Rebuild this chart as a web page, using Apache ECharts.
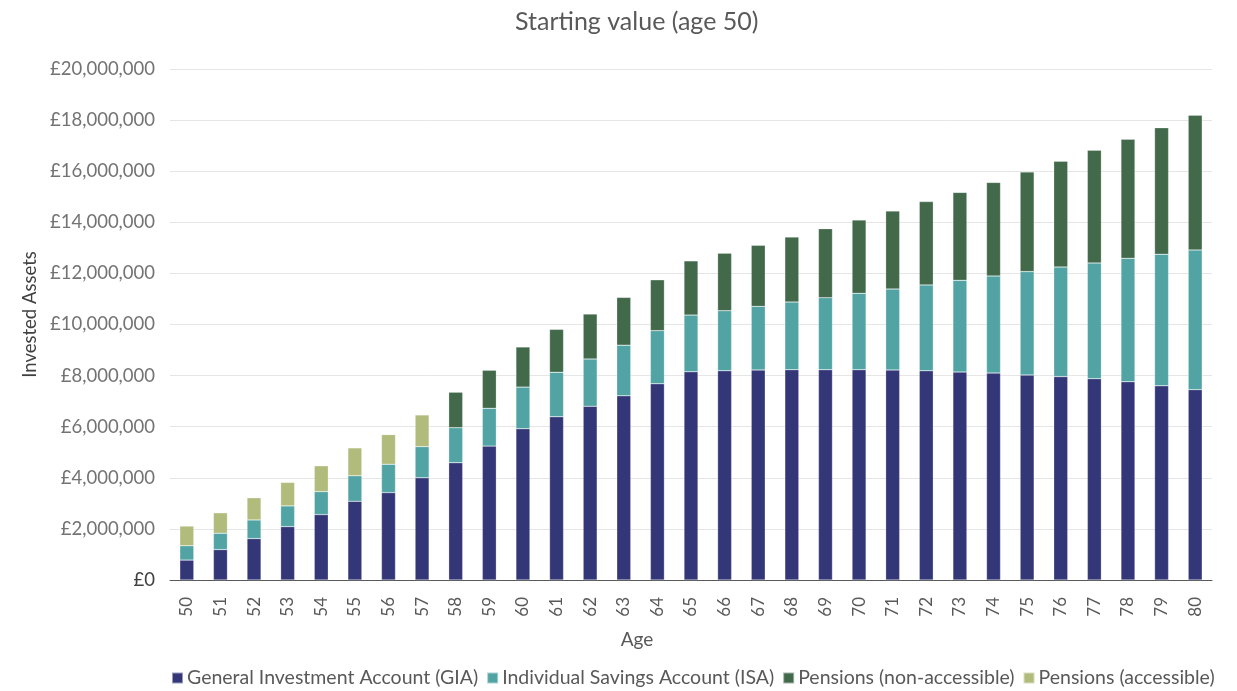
<!DOCTYPE html>
<html>
<head>
<meta charset="utf-8">
<script src="https://cdn.jsdelivr.net/npm/echarts@6/dist/echarts.min.js"></script>
<style>
  html, body { margin: 0; padding: 0; background: #fff; }
  #chart { width: 1237px; height: 691px; }
</style>
</head>
<body>
<div id="chart"></div>
<script>
  // ages on the x axis
  var ages = ['50','51','52','53','54','55','56','57','58','59','60','61','62','63','64','65',
              '66','67','68','69','70','71','72','73','74','75','76','77','78','79','80'];
  // values in £ millions
  var gia = [0.78,1.19,1.62,2.09,2.56,3.08,3.42,4.00,4.59,5.24,5.92,6.39,6.80,7.21,7.68,8.15,
             8.19,8.22,8.23,8.23,8.23,8.22,8.19,8.14,8.10,8.02,7.96,7.88,7.76,7.60,7.45];
  var isa = [0.56,0.64,0.73,0.81,0.90,1.00,1.11,1.22,1.37,1.48,1.63,1.74,1.85,1.98,2.08,2.22,
             2.35,2.49,2.65,2.82,2.99,3.17,3.36,3.59,3.80,4.05,4.29,4.53,4.83,5.15,5.47];
  var pensionsLocked = [0,0,0,0,0,0,0,0,1.39,1.49,1.57,1.68,1.76,1.87,1.99,2.12,
                        2.25,2.39,2.54,2.70,2.87,3.05,3.26,3.44,3.66,3.90,4.14,4.41,4.66,4.95,5.27];
  var pensionsOpen = [0.77,0.80,0.87,0.92,1.01,1.09,1.16,1.24,0,0,0,0,0,0,0,0,
                      0,0,0,0,0,0,0,0,0,0,0,0,0,0,0];
  var yTicks = { min: 0, max: 20000000, interval: 2000000 };

  function toPounds(arr) {
    return arr.map(function (v) { return v ? Math.round(v * 1000000) : null; });
  }

  var font = 'Lato, "Noto Sans", sans-serif';
  var myChart = echarts.init(document.getElementById('chart'));

  function bar(name, data, color) {
    return {
      name: name,
      type: 'bar',
      stack: 'total',
      data: toPounds(data),
      barWidth: 14,
      itemStyle: { color: color, borderColor: 'rgba(255,255,255,0.5)', borderWidth: 0.5 }
    };
  }

  var option = {
    animation: false,
    title: {
      text: 'Starting value (age 50)',
      left: 510,
      top: 4,
      textStyle: { fontFamily: font, fontSize: 25, fontWeight: 'normal', color: '#595959' }
    },
    legend: {
      left: 166,
      top: 663,
      itemWidth: 11,
      itemHeight: 11,
      itemGap: 8,
      icon: 'rect',
      textStyle: { fontFamily: font, fontSize: 19.5, color: '#595959', padding: [0, 0, 0, -1] },
      data: ['General Investment Account (GIA)', 'Individual Savings Account (ISA)',
             'Pensions (non-accessible)', 'Pensions (accessible)']
    },
    grid: { left: 170, right: 25, top: 69, bottom: 111 },
    xAxis: {
      type: 'category',
      data: ages,
      name: 'Age',
      nameLocation: 'middle',
      nameGap: 50,
      nameTextStyle: { fontFamily: font, fontSize: 19, color: '#595959', padding: [0, 108, 0, 0] },
      axisLine: { lineStyle: { color: '#595959', width: 1 } },
      axisTick: { show: false },
      axisLabel: { rotate: 90, interval: 0, margin: 17, fontFamily: font, fontSize: 17, color: '#595959' }
    },
    yAxis: {
      type: 'value',
      min: yTicks.min,
      max: yTicks.max,
      interval: yTicks.interval,
      name: 'Invested Assets',
      nameLocation: 'middle',
      nameGap: 117,
      nameTextStyle: { fontFamily: font, fontSize: 18.5, color: '#404040', padding: [0, 0, 0, 20] },
      axisLabel: {
        margin: 15,
        fontFamily: font,
        fontSize: 18.5,
        color: '#737373',
        formatter: function (v) { return v === 0 ? '{z|£0}' : '£' + v.toLocaleString('en-GB'); },
        rich: { z: { fontFamily: font, fontSize: 18.5, color: '#404040' } }
      },
      splitLine: { lineStyle: { color: '#e6e6e6', width: 1 } }
    },
    series: [
      bar('General Investment Account (GIA)', gia, '#333777'),
      bar('Individual Savings Account (ISA)', isa, '#52a3a4'),
      bar('Pensions (non-accessible)', pensionsLocked, '#41694a'),
      bar('Pensions (accessible)', pensionsOpen, '#b0bb7c')
    ]
  };
  myChart.setOption(option);
</script>
</body>
</html>
